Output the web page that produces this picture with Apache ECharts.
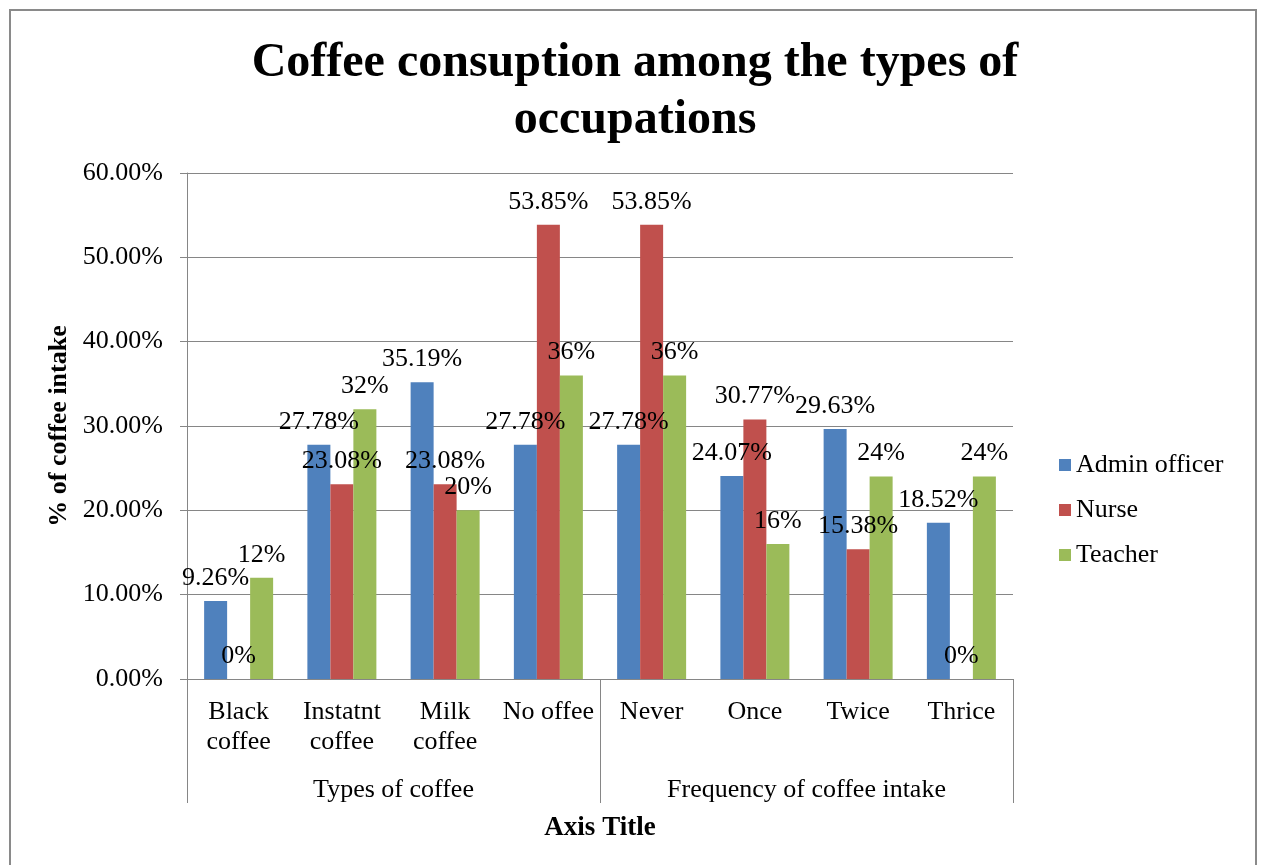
<!DOCTYPE html>
<html><head><meta charset="utf-8">
<script src="https://cdn.jsdelivr.net/npm/echarts@6/dist/echarts.min.js"></script>
<style>html,body{margin:0;padding:0;background:#fff}#c{width:1262px;height:865px}</style>
</head><body><div id="c"></div>
<script>
const categories = ['Black\ncoffee', 'Instatnt\ncoffee', 'Milk\ncoffee', 'No offee', 'Never', 'Once', 'Twice', 'Thrice'];
const groups = ['Types of coffee', 'Frequency of coffee intake'];
const adminOfficer = [9.26, 27.78, 35.19, 27.78, 27.78, 24.07, 29.63, 18.52];
const nurse = [0, 23.08, 23.08, 53.85, 53.85, 30.77, 15.38, 0];
const teacher = [12, 32, 20, 36, 36, 16, 24, 24];
const seriesNames = ['Admin officer', 'Nurse', 'Teacher'];
const colors = ['#4F81BD', '#C0504D', '#9BBB59'];

const FONT = '"Liberation Serif", "Times New Roman", serif';
const GRAY = '#868686';
const FS = 26;
function fmt(v) { return Number.isInteger(v) ? v + '%' : v.toFixed(2) + '%'; }

const chart = echarts.init(document.getElementById('c'));
const mk = (name, data, color) => ({
  name, type: 'bar', data, xAxisIndex: 0, barWidth: 23, barGap: '0%',
  itemStyle: { color },
  label: { show: true, position: 'top', distance: 10, fontFamily: FONT, fontSize: FS, color: '#000',
    formatter: p => fmt(p.value) }
});
chart.setOption({
  animation: false,
  textStyle: { fontFamily: FONT },
  graphic: [{ type: 'rect', shape: { x: 10, y: 10, width: 1246, height: 880 },
    style: { fill: 'none', stroke: '#8a8a8a', lineWidth: 2 }, silent: true }],
  title: [
    { text: 'Coffee consuption among the types of\noccupations', left: 630, top: 30, textAlign: 'center',
      textStyle: { fontFamily: FONT, fontSize: 48, fontWeight: 'bold', color: '#000', lineHeight: 57 } },
    { text: 'Axis Title', left: 595, top: 810, textAlign: 'center',
      textStyle: { fontFamily: FONT, fontSize: 27, fontWeight: 'bold', color: '#000' } }
  ],
  legend: {
    orient: 'vertical', left: 1054, top: 447, itemWidth: 12, itemHeight: 12, itemGap: 19,
    icon: 'rect', data: seriesNames,
    textStyle: { fontFamily: FONT, fontSize: FS, color: '#000', padding: [0, 0, 0, 0] }
  },
  grid: { left: 187, right: 249, top: 173, bottom: 186, containLabel: false },
  xAxis: [
    { type: 'category', data: categories, position: 'bottom',
      axisLine: { show: true, lineStyle: { color: GRAY, width: 1 } },
      axisTick: { show: false },
      axisLabel: { interval: 0, margin: 18, fontFamily: FONT, fontSize: FS, color: '#000', lineHeight: 30 } },
    { type: 'category', data: groups, position: 'bottom', offset: 0,
      axisLine: { show: false },
      axisTick: { show: true, length: 124, lineStyle: { color: GRAY, width: 1 } },
      axisLabel: { interval: 0, margin: 98, fontFamily: FONT, fontSize: FS, color: '#000' } }
  ],
  yAxis: {
    type: 'value', min: 0, max: 60, interval: 10,
    name: '% of coffee intake', nameLocation: 'middle', nameGap: 108, nameRotate: 90,
    nameTextStyle: { fontFamily: FONT, fontSize: 26, fontWeight: 'bold', color: '#000' },
    axisLine: { show: true, lineStyle: { color: GRAY, width: 1 } },
    axisTick: { show: true, length: 7, lineStyle: { color: GRAY } },
    splitLine: { show: true, lineStyle: { color: GRAY, width: 1 } },
    axisLabel: { margin: 24, fontFamily: FONT, fontSize: FS, color: '#000', formatter: v => v.toFixed(2) + '%' }
  },
  series: [
    mk(seriesNames[0], adminOfficer, colors[0]),
    mk(seriesNames[1], nurse, colors[1]),
    mk(seriesNames[2], teacher, colors[2])
  ]
});
</script></body></html>
